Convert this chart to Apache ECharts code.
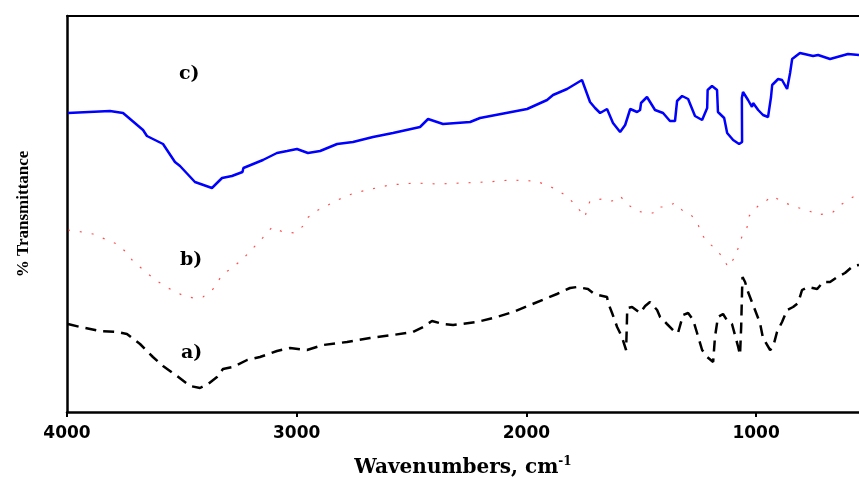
<!DOCTYPE html>
<html>
<head>
<meta charset="utf-8">
<script src="https://cdn.jsdelivr.net/npm/echarts@6/dist/echarts.min.js"></script>
<style>
  html, body { margin: 0; padding: 0; background: #fff; }
  #ftir_chart { width: 859px; height: 478px; }
</style>
</head>
<body>
<div id="ftir_chart"></div>
<script>
///////////////////////////////////////////////////
// Used data
///////////////////////////////////////////////////

// wavenumbers (cm-1) and transmittance
var wnA = [3996, 3943, 3856, 3782, 3739, 3682, 3626, 3582, 3521, 3464, 3421, 3386, 3347, 3321, 3277, 3216, 3160, 3086, 3029, 2955, 2885, 2781, 2681, 2581, 2494, 2450, 2411, 2363, 2319, 2215, 2128, 2058, 1984, 1910, 1867, 1810, 1779, 1732, 1710, 1688, 1649, 1644, 1627, 1605, 1584, 1566, 1563, 1561, 1540, 1505, 1483, 1462, 1431, 1418, 1388, 1353, 1340, 1318, 1296, 1274, 1257, 1235, 1213, 1187, 1179, 1166, 1144, 1122, 1105, 1092, 1078, 1070, 1065, 1061, 1059, 1048, 1035, 1013, 983, 970, 939, 926, 909, 887, 865, 839, 817, 800, 774, 734, 708, 678, 647, 613, 578, 552];
var tA = [22, 21.25, 20.25, 20, 19.5, 17, 13.75, 11.5, 9, 6.5, 6, 7, 8.75, 10.75, 11.25, 13, 13.75, 15.25, 16, 15.5, 16.75, 17.5, 18.5, 19.25, 20, 21.25, 22.75, 22, 21.75, 22.5, 23.75, 25, 26.75, 28.5, 29.5, 31, 31.25, 30.75, 29.75, 29.25, 28.75, 27.25, 24.75, 21.25, 18.75, 15.5, 21.25, 26, 26.25, 24.75, 26.5, 27.5, 25.5, 23.75, 22, 20, 19.75, 24.25, 24.75, 23, 19.75, 15.5, 13.75, 12.5, 18.75, 23.75, 24.5, 22.5, 22, 19.25, 16.25, 14.25, 21.25, 30.5, 33.75, 32.5, 30, 26.75, 22.25, 18.5, 15.5, 16.25, 20, 22.5, 25.5, 26.25, 27.25, 30.5, 31.25, 30.75, 32.5, 32.5, 33.75, 34.75, 36.5, 36.75];

var wnB = [3996, 3935, 3887, 3835, 3782, 3743, 3713, 3652, 3608, 3560, 3499, 3451, 3408, 3364, 3325, 3277, 3234, 3203, 3168, 3129, 3107, 3060, 3007, 2972, 2955, 2907, 2855, 2803, 2750, 2694, 2594, 2485, 2385, 2276, 2171, 2071, 1962, 1910, 1867, 1819, 1788, 1758, 1745, 1736, 1723, 1671, 1627, 1592, 1562, 1518, 1479, 1449, 1431, 1396, 1353, 1318, 1279, 1253, 1240, 1213, 1174, 1144, 1122, 1092, 1070, 1061, 1039, 1037, 1013, 987, 952, 930, 883, 830, 778, 730, 665, 626, 578, 552];
var tB = [45.5, 45, 44.5, 43.25, 42, 40, 37.75, 34.75, 32.75, 31, 29.25, 28.5, 28.75, 30.75, 34.25, 36.25, 38.25, 40.25, 42.25, 44.75, 46.25, 45, 44.75, 46.5, 48.5, 50.5, 52, 53.5, 54.75, 55.5, 56.75, 57.25, 57, 57.25, 57.5, 58, 57.75, 56.75, 55.5, 53.75, 51.75, 49.75, 48.75, 50.75, 52.75, 53.25, 52.75, 54, 52, 50.25, 49.75, 49.75, 51.25, 51.25, 52.25, 50.25, 49, 47, 44.75, 42.5, 40.75, 38.5, 36.25, 38.75, 42.25, 44, 46.25, 48.5, 50.25, 51.75, 53, 54, 52.5, 51.25, 50.5, 49.25, 50, 52, 53.75, 54.25];

var wnC = [3996, 3813, 3756, 3669, 3652, 3582, 3530, 3508, 3443, 3369, 3325, 3282, 3236, 3232, 3147, 3086, 3042, 2999, 2951, 2898, 2824, 2755, 2668, 2581, 2463, 2428, 2363, 2245, 2202, 1997, 1910, 1884, 1823, 1758, 1723, 1701, 1679, 1649, 1623, 1592, 1570, 1548, 1518, 1505, 1501, 1475, 1440, 1405, 1375, 1353, 1344, 1322, 1296, 1266, 1235, 1213, 1211, 1192, 1170, 1166, 1139, 1126, 1100, 1074, 1061, 1062, 1057, 1035, 1018, 1013, 991, 970, 948, 935, 930, 904, 887, 865, 852, 843, 809, 752, 730, 678, 600, 552];
var tC = [74.75, 75.25, 74.75, 70.5, 69, 67, 62.5, 61.5, 57.5, 56, 58.5, 59, 60, 61, 63, 64.75, 65.25, 65.75, 64.75, 65.25, 67, 67.5, 68.75, 69.75, 71.25, 73.25, 72, 72.5, 73.5, 75.75, 78, 79.25, 80.75, 83, 77.5, 76, 74.75, 75.75, 72.25, 70, 71.75, 75.75, 75, 75.5, 77.25, 78.75, 75.5, 74.75, 72.75, 72.75, 77.75, 79, 78.25, 74, 73, 76, 80.5, 81.5, 80.5, 75, 73.5, 69.75, 68, 67, 67.5, 78.5, 80, 78, 76.25, 77.25, 75.5, 74.25, 73.75, 78.75, 81.75, 83.25, 83, 80.75, 84.75, 88.25, 89.75, 89, 89.25, 88.25, 89.5, 89.25];

var xTicks = [4000, 3000, 2000, 1000];
var curveLabels = ['a)', 'b)', 'c)'];

function pairs(xs, ys) {
  return xs.map(function (x, i) { return [x, ys[i]]; });
}

///////////////////////////////////////////////////
// Chart
///////////////////////////////////////////////////
var serif = '"DejaVu Serif", "Liberation Serif", serif';

var option = {
  animation: false,
  backgroundColor: '#fff',
  grid: { left: 67, right: 0, top: 16, bottom: 66, containLabel: false, outerBoundsMode: 'none' },
  xAxis: [
    {
      type: 'value',
      inverse: true,
      min: 552,
      max: 4000,
      name: '{t|Wavenumbers, cm}{s|-1}',
      nameLocation: 'middle',
      nameGap: 44,
      nameMoveOverlap: false,
      nameTextStyle: {
        rich: {
          t: { fontFamily: serif, fontWeight: 'bold', fontSize: 20, color: '#000', lineHeight: 24 },
          s: { fontFamily: serif, fontWeight: 'bold', fontSize: 12, color: '#000', lineHeight: 24, verticalAlign: 'top' },
        },
      },
      axisLine: { show: true, onZero: false, lineStyle: { color: '#000', width: 2.5 } },
      axisTick: { show: true, customValues: xTicks, length: 5, lineStyle: { color: '#000', width: 2 } },
      axisLabel: {
        customValues: xTicks,
        formatter: function (v) { return String(v); },
        margin: 13,
        color: '#000',
        fontFamily: '"DejaVu Sans", sans-serif',
        fontWeight: 'bold',
        fontSize: 17,
      },
      splitLine: { show: false },
    },
    {
      // top frame line
      type: 'value',
      position: 'top',
      inverse: true,
      min: 552,
      max: 4000,
      axisLine: { show: true, onZero: false, lineStyle: { color: '#000', width: 2 } },
      axisTick: { show: false },
      axisLabel: { show: false },
      splitLine: { show: false },
    },
  ],
  yAxis: {
    type: 'value',
    min: 0,
    max: 99,
    name: '% Transmittance',
    nameLocation: 'middle',
    nameGap: 35,
    nameMoveOverlap: false,
    nameRotate: 90,
    nameTextStyle: {
      fontFamily: '"Liberation Serif", serif',
      fontWeight: 'bold',
      fontSize: 17,
      color: '#000',
    },
    axisLine: { show: true, onZero: false, lineStyle: { color: '#000', width: 2.5 } },
    axisTick: { show: false },
    axisLabel: { show: false },
    splitLine: { show: false },
  },
  series: [
    {
      name: curveLabels[0],
      type: 'line',
      data: pairs(wnA, tA),
      symbol: 'none',
      lineStyle: { color: '#000', width: 2.5, type: [11, 7] },
    },
    {
      name: curveLabels[1],
      type: 'line',
      data: pairs(wnB, tB),
      symbol: 'none',
      lineStyle: { color: '#ff2020', width: 1.2, type: [2, 10], opacity: 0.8 },
    },
    {
      name: curveLabels[2],
      type: 'line',
      data: pairs(wnC, tC),
      symbol: 'none',
      lineStyle: { color: '#0000ff', width: 2.5 },
    },
  ],
  // curve captions
  graphic: [
    { type: 'text', left: 181, top: 344, style: { text: curveLabels[0], font: 'bold 19px ' + serif, fill: '#000' } },
    { type: 'text', left: 180, top: 251, style: { text: curveLabels[1], font: 'bold 19px ' + serif, fill: '#000' } },
    { type: 'text', left: 179, top: 65, style: { text: curveLabels[2], font: 'bold 19px ' + serif, fill: '#000' } },
  ],
};

var myChart = echarts.init(document.getElementById('ftir_chart'), null, { renderer: 'canvas' });
myChart.setOption(option);
</script>
</body>
</html>
